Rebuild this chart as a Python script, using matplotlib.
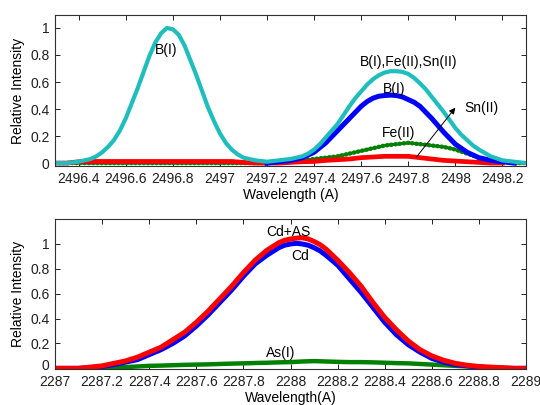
import numpy as np
import matplotlib
matplotlib.use("Agg")
import matplotlib.pyplot as plt
from matplotlib.transforms import ScaledTranslation

plt.rcParams["font.family"] = ["Liberation Sans", "DejaVu Sans"]
plt.rcParams["font.size"] = 10

# -----------------------------
# TOP PANEL: B / Fe / Sn lines near 2497 A
# -----------------------------
wl_top = [2496.30, 2496.35, 2496.40, 2496.45, 2496.50, 2496.55, 2496.60, 2496.65,
          2496.70, 2496.75, 2496.80, 2496.85, 2496.90, 2496.95, 2497.00, 2497.05,
          2497.10, 2497.15, 2497.20, 2497.25, 2497.30, 2497.35, 2497.40, 2497.45,
          2497.50, 2497.55, 2497.60, 2497.65, 2497.70, 2497.75, 2497.80, 2497.85,
          2497.90, 2497.95, 2498.00, 2498.05, 2498.10, 2498.15, 2498.20, 2498.25,
          2498.30]

# total (B(I)+Fe(II)+Sn(II)), read a bit finer around the two peaks
wl_total = [2496.30, 2496.35, 2496.40, 2496.425, 2496.45, 2496.475, 2496.50, 2496.525,
            2496.55, 2496.575, 2496.60, 2496.625, 2496.65, 2496.675, 2496.70, 2496.725,
            2496.75, 2496.775, 2496.80, 2496.825, 2496.85, 2496.875, 2496.90, 2496.925,
            2496.95, 2496.975, 2497.00, 2497.025, 2497.05, 2497.075, 2497.10, 2497.15,
            2497.20, 2497.25, 2497.30, 2497.35, 2497.375, 2497.40, 2497.425, 2497.45,
            2497.475, 2497.50, 2497.525, 2497.55, 2497.575, 2497.60, 2497.625, 2497.65,
            2497.675, 2497.70, 2497.725, 2497.75, 2497.775, 2497.80, 2497.825, 2497.85,
            2497.875, 2497.90, 2497.925, 2497.95, 2497.975, 2498.00, 2498.025, 2498.05,
            2498.075, 2498.10, 2498.15, 2498.20, 2498.25, 2498.30]
total_top = [0.00, 0.00, 0.01, 0.02, 0.03, 0.05, 0.08, 0.12,
             0.17, 0.24, 0.33, 0.44, 0.55, 0.67, 0.79, 0.89,
             0.96, 1.00, 0.99, 0.95, 0.87, 0.76, 0.65, 0.53,
             0.41, 0.31, 0.22, 0.15, 0.10, 0.065, 0.04, 0.02,
             0.01, 0.02, 0.03, 0.05, 0.07, 0.10, 0.14, 0.19,
             0.24, 0.29, 0.355, 0.42, 0.48, 0.53, 0.58, 0.62,
             0.65, 0.67, 0.68, 0.68, 0.675, 0.66, 0.63, 0.59,
             0.545, 0.49, 0.435, 0.38, 0.32, 0.26, 0.21, 0.17,
             0.13, 0.10, 0.05, 0.02, 0.01, 0.00]

# B(I) second line
wl_b = [2497.20, 2497.25, 2497.30, 2497.35, 2497.40, 2497.45, 2497.50, 2497.55,
        2497.60, 2497.625, 2497.65, 2497.675, 2497.70, 2497.725, 2497.75, 2497.775,
        2497.80, 2497.825, 2497.85, 2497.90, 2497.95, 2498.00, 2498.05, 2498.10,
        2498.15, 2498.20, 2498.25]
b_top = [0.00, 0.01, 0.02, 0.04, 0.08, 0.15, 0.24, 0.33,
         0.42, 0.455, 0.48, 0.495, 0.50, 0.503, 0.50, 0.49,
         0.47, 0.45, 0.42, 0.33, 0.23, 0.14, 0.08, 0.04,
         0.02, 0.01, 0.00]

fe_top = [0.00, 0.00, 0.01, 0.012, 0.012, 0.012, 0.012, 0.012,
          0.012, 0.012, 0.012, 0.012, 0.012, 0.012, 0.012, 0.012,
          0.005, 0.00, 0.00, 0.00, 0.005, 0.01, 0.012, 0.02,
          0.025, 0.03, 0.04, 0.045, 0.05, 0.05, 0.05, 0.04,
          0.03, 0.02, 0.015, 0.01, 0.005, 0.00, 0.00]

sn_top = [0.00, 0.00, 0.00, 0.00, 0.00, 0.00, 0.00, 0.00,
          0.00, 0.00, 0.00, 0.00, 0.00, 0.00, 0.00, 0.00,
          0.00, 0.00, 0.00, 0.01, 0.01, 0.02, 0.03, 0.04,
          0.05, 0.07, 0.09, 0.11, 0.13, 0.14, 0.15, 0.14,
          0.13, 0.12, 0.10, 0.07, 0.04, 0.02, 0.01, 0.00,
          0.00]

top_ticks = [2496.4, 2496.6, 2496.8, 2497, 2497.2, 2497.4, 2497.6, 2497.8, 2498, 2498.2]
top_ticklabels = ["2496.4", "2496.6", "2496.8", "2497", "2497.2", "2497.4",
                  "2497.6", "2497.8", "2498", "2498.2"]

# -----------------------------
# BOTTOM PANEL: Cd / As near 2288 A
# -----------------------------
wl_bot = [2287.00, 2287.05, 2287.10, 2287.15, 2287.20, 2287.25, 2287.30, 2287.35,
          2287.40, 2287.45, 2287.50, 2287.55, 2287.60, 2287.65, 2287.70, 2287.75,
          2287.80, 2287.85, 2287.90, 2287.95, 2287.975, 2288.00, 2288.025, 2288.05,
          2288.075, 2288.10, 2288.125, 2288.15, 2288.20, 2288.25, 2288.30, 2288.35,
          2288.40, 2288.45, 2288.50, 2288.55, 2288.60, 2288.65, 2288.70, 2288.75,
          2288.80, 2288.85, 2288.90, 2288.95, 2289.00]

cd_as = [0.00, 0.00, 0.00, 0.01, 0.02, 0.04, 0.06, 0.09,
         0.13, 0.17, 0.23, 0.29, 0.37, 0.46, 0.56, 0.66,
         0.77, 0.87, 0.95, 1.01, 1.03, 1.04, 1.047, 1.05,
         1.04, 1.02, 0.995, 0.96, 0.87, 0.77, 0.66, 0.53,
         0.41, 0.31, 0.22, 0.15, 0.10, 0.065, 0.04, 0.025,
         0.015, 0.01, 0.005, 0.00, 0.00]

cd = [0.00, 0.00, 0.00, 0.005, 0.015, 0.03, 0.05, 0.07,
      0.11, 0.15, 0.20, 0.26, 0.34, 0.43, 0.53, 0.63,
      0.74, 0.84, 0.91, 0.97, 0.99, 1.00, 1.005, 1.00,
      0.99, 0.97, 0.945, 0.91, 0.83, 0.72, 0.61, 0.49,
      0.37, 0.27, 0.19, 0.13, 0.08, 0.05, 0.03, 0.02,
      0.01, 0.005, 0.00, 0.00, 0.00]

wl_as = [2287.00, 2287.05, 2287.10, 2287.15, 2287.20, 2287.25, 2287.30, 2287.35,
         2287.40, 2287.45, 2287.50, 2287.55, 2287.60, 2287.65, 2287.70, 2287.75,
         2287.80, 2287.85, 2287.90, 2287.95, 2288.00, 2288.05, 2288.10, 2288.15,
         2288.20, 2288.25, 2288.30, 2288.35, 2288.40, 2288.45, 2288.50, 2288.55,
         2288.60, 2288.65, 2288.70, 2288.75, 2288.80, 2288.85, 2288.90, 2288.95,
         2289.00]
as_i = [0.00, 0.00, 0.00, 0.00, 0.005, 0.008, 0.01, 0.015,
        0.02, 0.022, 0.025, 0.028, 0.03, 0.032, 0.035, 0.038,
        0.04, 0.043, 0.045, 0.048, 0.05, 0.055, 0.058, 0.055,
        0.052, 0.05, 0.05, 0.048, 0.045, 0.042, 0.04, 0.035,
        0.03, 0.025, 0.02, 0.015, 0.01, 0.008, 0.005, 0.00,
        0.00]

bot_ticks = [2287, 2287.2, 2287.4, 2287.6, 2287.8, 2288, 2288.2, 2288.4, 2288.6, 2288.8, 2289]
bot_ticklabels = ["2287", "2287.2", "2287.4", "2287.6", "2287.8", "2288",
                  "2288.2", "2288.4", "2288.6", "2288.8", "2289"]

y_ticks = [0, 0.2, 0.4, 0.6, 0.8, 1]
y_ticklabels = ["0", "0.2", "0.4", "0.6", "0.8", "1"]

CYAN = "#20BDBD"
BLUE = "#0000FF"
RED = "#FF0000"
GREEN = "#008000"


def style_axes(ax):
    for s in ax.spines.values():
        s.set_color("#303030")
        s.set_linewidth(0.8)
    ax.tick_params(direction="in", length=3.5, width=0.7, top=True, right=True,
                   labelsize=10, colors="#202020")
    ax.tick_params(axis="x", pad=4.5)
    ax.tick_params(axis="y", pad=4)


fig = plt.figure(figsize=(5.4, 4.05), dpi=100)

# top panel
ax1 = fig.add_axes([0.102, 0.590, 0.872, 0.373])
ax1.plot(wl_top, sn_top, color=GREEN, linewidth=2.2, solid_capstyle="butt")
ax1.plot(wl_top, sn_top, color=GREEN, linewidth=3.2, linestyle=(0, (0.05, 0.9)),
         dash_capstyle="round")
ax1.plot(wl_top[:len(fe_top)], fe_top, color=RED, linewidth=3.4)
ax1.plot(wl_b, b_top, color=BLUE, linewidth=3.6)
ax1.plot(wl_total, total_top, color=CYAN, linewidth=3.0)

ax1.text(2496.77, 0.84, "B(I)", ha="center", va="center")
ax1.text(2497.80, 0.75, "B(I),Fe(II),Sn(II)", ha="center", va="center")
ax1.text(2497.74, 0.55, "B(I)", ha="center", va="center")
ax1.text(2497.76, 0.22, "Fe(II)", ha="center", va="center")
ax1.text(2498.04, 0.41, "Sn(II)", ha="left", va="center")
ax1.annotate("", xy=(2498.00, 0.41), xytext=(2497.835, 0.045),
             arrowprops=dict(arrowstyle="-|>", color="black", lw=0.7,
                             mutation_scale=9, shrinkA=0, shrinkB=0))

ax1.set_xlim(2496.3, 2498.3)
ax1.set_ylim(-0.022, 1.096)
ax1.set_xticks(top_ticks)
ax1.set_xticklabels(top_ticklabels)
ax1.set_yticks(y_ticks)
ax1.set_yticklabels(y_ticklabels)
ax1.set_xlabel("Wavelength (A)", labelpad=1)
ax1.set_ylabel("Relative Intensity", labelpad=4)
style_axes(ax1)

# bottom panel
ax2 = fig.add_axes([0.102, 0.089, 0.872, 0.370])
ax2.plot(wl_as, as_i, color=GREEN, linewidth=3.2)
ax2.plot(wl_bot, cd, color=BLUE, linewidth=3.6)
ax2.plot(wl_bot, cd_as, color=RED, linewidth=3.6)

ax2.text(2287.99, 1.10, "Cd+AS", ha="center", va="center")
ax2.text(2288.04, 0.90, "Cd", ha="center", va="center")
ax2.text(2287.96, 0.12, "As(I)", ha="center", va="center")

ax2.set_xlim(2287, 2289)
ax2.set_ylim(-0.005, 1.2)
ax2.set_xticks(bot_ticks)
ax2.set_xticklabels(bot_ticklabels)
ax2.set_yticks(y_ticks)
ax2.set_yticklabels(y_ticklabels)
ax2.set_xlabel("Wavelength(A)", labelpad=1)
ax2.set_ylabel("Relative Intensity", labelpad=4)
style_axes(ax2)

# lift the bottom "0" a touch so it clears the "2287" label
zero_lbl = ax2.get_yticklabels()[0]
zero_lbl.set_transform(zero_lbl.get_transform() +
                       ScaledTranslation(0, 2.5 / 72, fig.dpi_scale_trans))

fig.savefig("out.png", dpi=100)
